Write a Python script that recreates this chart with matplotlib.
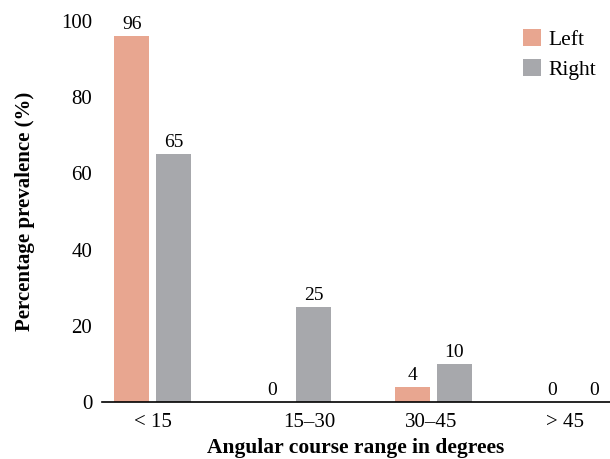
import matplotlib
matplotlib.use("Agg")
import matplotlib.pyplot as plt
import numpy as np

categories = ["< 15", "15\u201330", "30\u201345", "> 45"]
left_vals = [96, 0, 4, 0]
right_vals = [65, 25, 10, 0]

plt.rcParams['font.family'] = ['Liberation Serif', 'DejaVu Serif']

fig = plt.figure(figsize=(6.10, 4.59), dpi=100)
ax = fig.add_axes([102/610, 1 - 402/459, 508/610, 381/459])

x = np.arange(len(categories))
w = 0.25
c_left = '#E8A690'
c_right = '#A7A8AC'
b1 = ax.bar(x - 0.15, left_vals, w, color=c_left, label='Left')
b2 = ax.bar(x + 0.15, right_vals, w, color=c_right, label='Right')

for bars, vals in ((b1, left_vals), (b2, right_vals)):
    for b, v in zip(bars, vals):
        ax.text(b.get_x() + b.get_width()/2, v + 0.8, str(v),
                ha='center', va='bottom', fontsize=14)

ax.set_xlim(-0.364, 3.264)
ax.set_ylim(0, 100)
ax.set_yticks([0, 20, 40, 60, 80, 100])
# labels in the original sit a little off the group centres
ax.set_xticks(x + np.array([0.0, 0.12, -0.01, -0.06]))
ax.set_xticklabels(categories)
ax.tick_params(axis='both', length=0, labelsize=15)
ax.tick_params(axis='y', pad=7)
ax.tick_params(axis='x', pad=8)
for s in ['top', 'right', 'left']:
    ax.spines[s].set_visible(False)
ax.spines['bottom'].set_linewidth(1.2)

ax.set_ylabel('Percentage prevalence (%)', fontsize=15, fontweight='bold', labelpad=19)
ax.set_xlabel('Angular course range in degrees', fontsize=15.5, fontweight='bold', labelpad=4)

ax.legend(loc='upper right', frameon=False, fontsize=15.5, handlelength=0.85,
          handleheight=0.85, handletextpad=0.3, labelspacing=0.4,
          bbox_to_anchor=(1.01, 1.03))

fig.savefig('out.png', dpi=100)
